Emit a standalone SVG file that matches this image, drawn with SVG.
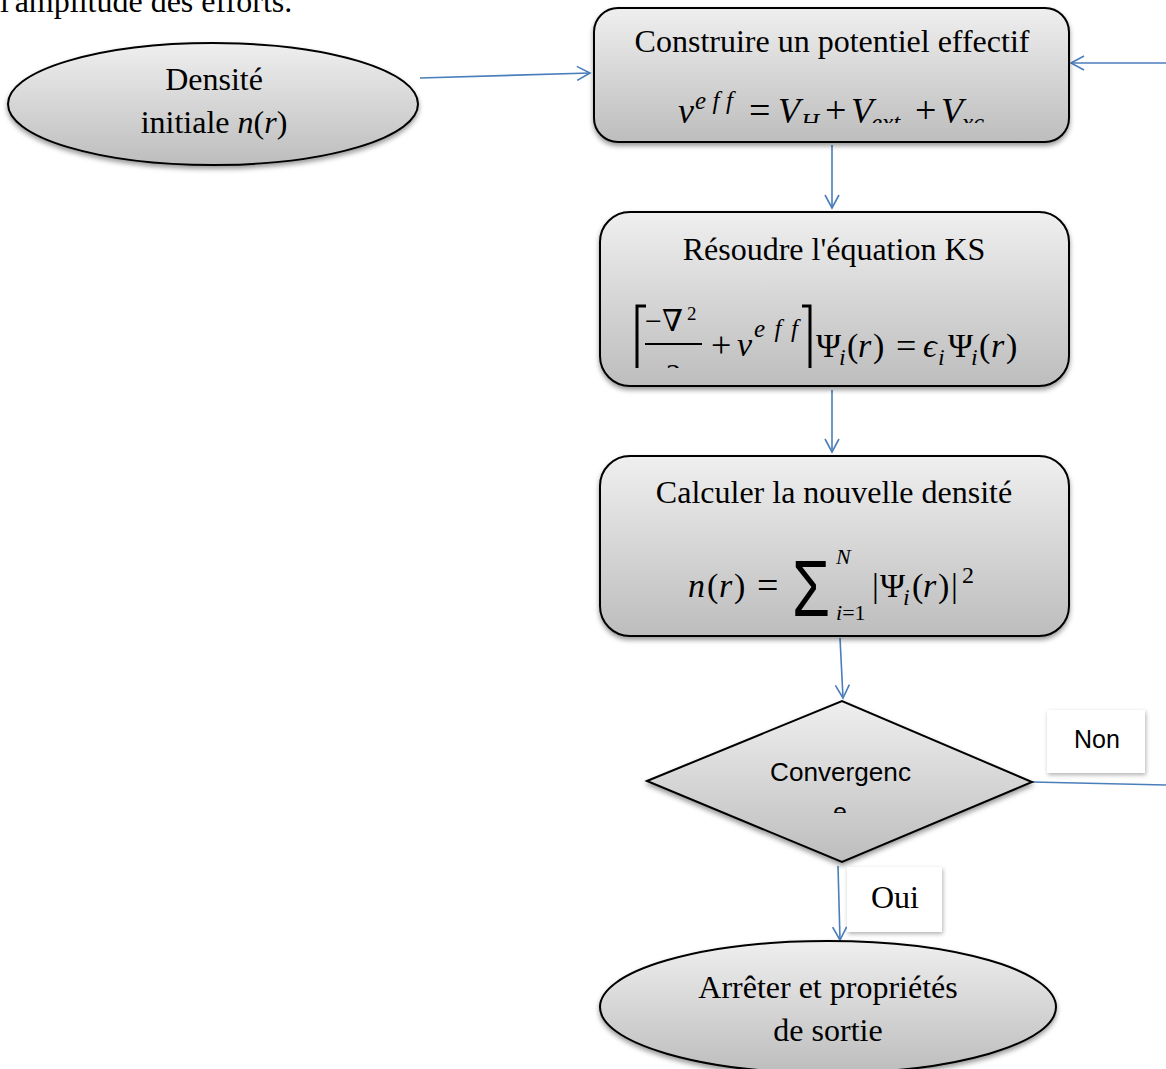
<svg xmlns="http://www.w3.org/2000/svg" width="1166" height="1069" viewBox="0 0 1166 1069">
<style>
.serif{font-family:"Liberation Serif","Times New Roman",serif;font-size:32px;fill:#000}
.math{font-family:"Liberation Serif","DejaVu Serif",serif;fill:#000}
.it{font-style:italic}
.sans{font-family:"Liberation Sans",Arial,sans-serif;fill:#000}
.shape{fill:url(#g);stroke:#000;stroke-width:2;filter:url(#sh)}
.label{fill:#fff;filter:url(#sh2)}
.conn{stroke:#4a7ebb;stroke-width:1.6;fill:none}
.br{stroke:#000;stroke-width:3;fill:none}
</style>
<defs>
<linearGradient id="g" x1="0" y1="0" x2="0" y2="1">
<stop offset="0" stop-color="#efefef"/>
<stop offset="1" stop-color="#bdbdbd"/>
</linearGradient>
<filter id="sh" x="-10%" y="-10%" width="120%" height="130%">
<feDropShadow dx="0" dy="3" stdDeviation="2.5" flood-color="#000" flood-opacity="0.4"/>
</filter>
<filter id="sh2" x="-10%" y="-10%" width="130%" height="130%">
<feDropShadow dx="1" dy="2" stdDeviation="2" flood-color="#000" flood-opacity="0.3"/>
</filter>
<marker id="arr" viewBox="0 0 16 16" markerWidth="16" markerHeight="16" refX="14" refY="8" orient="auto" markerUnits="userSpaceOnUse">
<path d="M1,1 L14,8 L1,15" stroke="#4a7ebb" stroke-width="1.6" fill="none"/>
</marker>
<clipPath id="c1"><rect x="594" y="8" width="475" height="115"/></clipPath>
<clipPath id="c2"><rect x="600" y="212" width="469" height="156"/></clipPath>
<clipPath id="c3"><rect x="647" y="701" width="385" height="112"/></clipPath>
</defs>

<text class="serif" x="0" y="12">l'amplitude des efforts.</text>

<g id="connectors">
<line class="conn" x1="420" y1="78" x2="590" y2="73" marker-end="url(#arr)"/>
<line class="conn" x1="1166" y1="63" x2="1071" y2="63" marker-end="url(#arr)"/>
<line class="conn" x1="832" y1="145" x2="832" y2="208" marker-end="url(#arr)"/>
<line class="conn" x1="832" y1="390" x2="832" y2="452" marker-end="url(#arr)"/>
<line class="conn" x1="840" y1="638" x2="843" y2="698" marker-end="url(#arr)"/>
<line class="conn" x1="1032" y1="782" x2="1166" y2="785"/>
<line class="conn" x1="838" y1="866" x2="840" y2="940" marker-end="url(#arr)"/>
</g>

<g id="start">
<ellipse class="shape" cx="213" cy="104" rx="205" ry="61"/>
<text class="serif" x="214" y="90" text-anchor="middle">Densité</text>
<text class="serif" x="214" y="133" text-anchor="middle">initiale <tspan class="it">n</tspan>(<tspan class="it">r</tspan>)</text>
</g>

<g id="potential">
<rect class="shape" x="594" y="8" width="475" height="134" rx="24"/>
<text class="serif" x="832" y="52" text-anchor="middle">Construire un potentiel effectif</text>
<g clip-path="url(#c1)">
<text class="math it" font-size="36" x="678" y="123">v</text>
<text class="math it" font-size="25" x="695" y="109" textLength="38" lengthAdjust="spacing">eff</text>
<text class="math" font-size="38" y="123"><tspan x="749">=</tspan><tspan x="825">+</tspan><tspan x="915">+</tspan></text>
<text class="math it" font-size="36" y="123"><tspan x="778">V</tspan><tspan x="851">V</tspan><tspan x="941">V</tspan></text>
<text class="math it" font-size="25" y="131"><tspan x="801">H</tspan><tspan x="871">ext</tspan><tspan x="962">xc</tspan></text>
</g>
</g>

<g id="ks">
<rect class="shape" x="600" y="212" width="469" height="174" rx="30"/>
<text class="serif" x="834" y="260" text-anchor="middle">Résoudre l'équation KS</text>
<g clip-path="url(#c2)">
<path class="br" d="M646,306 L637,306 L637,370"/>
<path class="br" d="M802,306 L810,306 L810,370"/>
<text class="math" font-size="30" x="645" y="331">−∇</text>
<text class="math" font-size="19" x="687" y="320">2</text>
<line x1="645" y1="344" x2="702" y2="344" stroke="#000" stroke-width="2.2"/>
<text class="math" font-size="30" x="666" y="384">2</text>
<text class="math" font-size="36" x="711" y="357">+</text>
<text class="math it" font-size="34" x="737" y="356">v</text>
<text class="math it" font-size="25" x="754" y="337" textLength="44" lengthAdjust="spacing">eff</text>
<text class="math" font-size="34" y="357"><tspan x="816">Ψ</tspan><tspan x="847">(</tspan><tspan class="it" x="858">r</tspan><tspan x="873">)</tspan><tspan x="979">(</tspan><tspan class="it" x="991">r</tspan><tspan x="1006">)</tspan><tspan x="948">Ψ</tspan></text>
<text class="math" font-size="36" x="896" y="358">=</text>
<text class="math it" font-size="34" x="923" y="357">ϵ</text>
<text class="math it" font-size="24" y="365"><tspan x="839">i</tspan><tspan x="938">i</tspan><tspan x="971">i</tspan></text>
</g>
</g>

<g id="density">
<rect class="shape" x="600" y="456" width="469" height="180" rx="30"/>
<text class="serif" x="834" y="503" text-anchor="middle">Calculer la nouvelle densité</text>
<text class="math" font-size="34" y="597"><tspan class="it" x="688">n</tspan><tspan x="707">(</tspan><tspan class="it" x="719">r</tspan><tspan x="734">)</tspan></text>
<text class="math" font-size="38" x="757" y="598">=</text>
<text class="sans" font-size="80" x="792" y="616" textLength="38" lengthAdjust="spacingAndGlyphs">Σ</text>
<text class="math it" font-size="22" x="836" y="564">N</text>
<text class="math" font-size="22" x="836" y="620"><tspan class="it">i</tspan>=1</text>
<text class="math" font-size="34" y="597"><tspan x="872">|</tspan><tspan x="880">Ψ</tspan><tspan x="912">(</tspan><tspan class="it" x="923">r</tspan><tspan x="938">)</tspan><tspan x="951">|</tspan></text>
<text class="math it" font-size="24" x="903" y="605">i</text>
<text class="math" font-size="24" x="962" y="583">2</text>
</g>

<g id="convergence">
<polygon class="shape" points="647,781 842,701 1032,782 842,862"/>
<g clip-path="url(#c3)">
<text class="sans" font-size="25" x="770" y="781" textLength="141" lengthAdjust="spacingAndGlyphs">Convergenc</text>
<text class="sans" font-size="25" x="840" y="821" text-anchor="middle">e</text>
</g>
</g>

<g id="label-non">
<rect class="label" x="1047" y="710" width="98" height="63"/>
<text class="sans" font-size="25" x="1097" y="748" text-anchor="middle">Non</text>
</g>

<g id="label-oui">
<rect class="label" x="847" y="867" width="95" height="65"/>
<text class="serif" x="895" y="908" text-anchor="middle">Oui</text>
</g>

<g id="stop">
<ellipse class="shape" cx="828" cy="1007" rx="228" ry="66"/>
<text class="serif" x="828" y="998" text-anchor="middle">Arrêter et propriétés</text>
<text class="serif" x="828" y="1041" text-anchor="middle">de sortie</text>
</g>
</svg>
